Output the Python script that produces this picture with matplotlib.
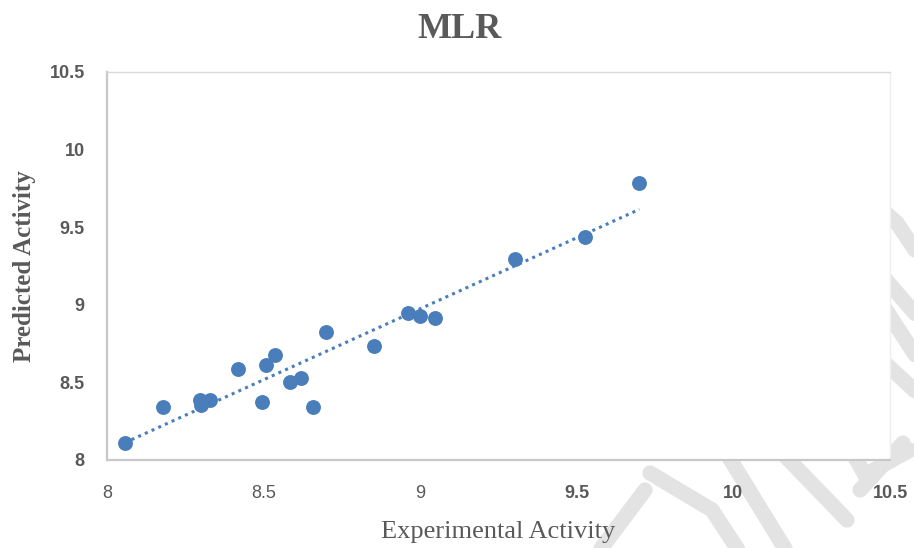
import numpy as np
import matplotlib.pyplot as plt
from matplotlib.lines import Line2D

# MLR model: experimental vs predicted activity
experimental = [8.057, 8.18, 8.297, 8.30, 8.33, 8.418, 8.495, 8.508, 8.536, 8.584,
                8.62, 8.658, 8.70, 8.853, 8.961, 9.00, 9.047, 9.303, 9.526, 9.70]
predicted = [8.11, 8.34, 8.387, 8.354, 8.387, 8.586, 8.374, 8.612, 8.677, 8.503,
             8.528, 8.341, 8.825, 8.735, 8.947, 8.928, 8.915, 9.295, 9.437, 9.785]

x_ticks = [8, 8.5, 9, 9.5, 10, 10.5]
x_tick_labels = ['8', '8.5', '9', '9.5', '10', '10.5']
x_tick_weights = ['normal', 'normal', 'normal', 'bold', 'bold', 'bold']
y_ticks = [8, 8.5, 9, 9.5, 10, 10.5]
y_tick_labels = ['8', '8.5', '9', '9.5', '10', '10.5']

# light grey watermark strokes behind the chart, in figure pixels (y from top)
W, H = 914, 548
stamp = [
    (645, 490, 585, 570),
    (650, 473, 712, 510),
    (712, 510, 748, 565),
    (700, 410, 795, 565),
    (760, 430, 847, 520),
    (840, 430, 865, 475),
    (865, 475, 910, 450),
    (903, 443, 860, 490),
    (860, 190, 897, 223),
    (897, 223, 925, 265),
    (860, 250, 925, 325),
    (860, 270, 925, 370),
    (860, 340, 925, 400),
]

blue = '#4a7ebb'
grey = '#595959'

fig = plt.figure(figsize=(W / 100, H / 100), dpi=100)
for x0, y0, x1, y1 in stamp:
    fig.add_artist(Line2D([x0 / W, x1 / W], [1 - y0 / H, 1 - y1 / H],
                          transform=fig.transFigure, color='#e3e3e3', lw=11,
                          solid_capstyle='round', zorder=-1))

ax = fig.add_axes([107 / W, 1 - 460 / H, (890 - 107) / W, (460 - 72) / H])
ax.set_facecolor('white')

ax.scatter(experimental, predicted, s=115, color=blue, zorder=3, linewidths=0)

# linear trend line over the data range
coef = np.polyfit(experimental, predicted, 1)
xs = np.array([min(experimental), max(experimental)])
ax.plot(xs, np.polyval(coef, xs), color=blue, lw=2.2,
        linestyle=(0, (1, 1.4)), dash_capstyle='butt', zorder=2)

ax.set_xlim(8, 10.5)
ax.set_ylim(8, 10.5)
ax.set_xticks(x_ticks)
ax.set_xticklabels(x_tick_labels, fontfamily='Liberation Sans', fontsize=13, color=grey)
for lbl, w in zip(ax.get_xticklabels(), x_tick_weights):
    lbl.set_fontweight(w)
ax.set_yticks(y_ticks)
ax.set_yticklabels(y_tick_labels, fontfamily='Liberation Sans', fontsize=13,
                   fontweight='bold', color=grey)
ax.tick_params(axis='x', length=0, pad=18)
ax.tick_params(axis='y', length=0, pad=16)

for side in ['left', 'bottom']:
    ax.spines[side].set_color('#c8c8c8')
    ax.spines[side].set_linewidth(1.6)
ax.spines['top'].set_color('#d9d9d9')
ax.spines['top'].set_linewidth(1.0)
ax.spines['right'].set_color('#eeeeee')
ax.spines['right'].set_linewidth(1.0)

ax.set_xlabel('Experimental Activity', fontfamily='Liberation Serif', fontsize=19,
              color=grey, labelpad=14)
ax.set_ylabel('Predicted Activity', fontfamily='Liberation Serif', fontsize=18,
              fontweight='bold', color=grey, labelpad=10)

fig.text(0.503, 1 - 30 / H, 'MLR', ha='center', va='center',
         fontfamily='Liberation Serif', fontsize=26, fontweight='bold', color=grey)

fig.savefig('out.png', dpi=100)
